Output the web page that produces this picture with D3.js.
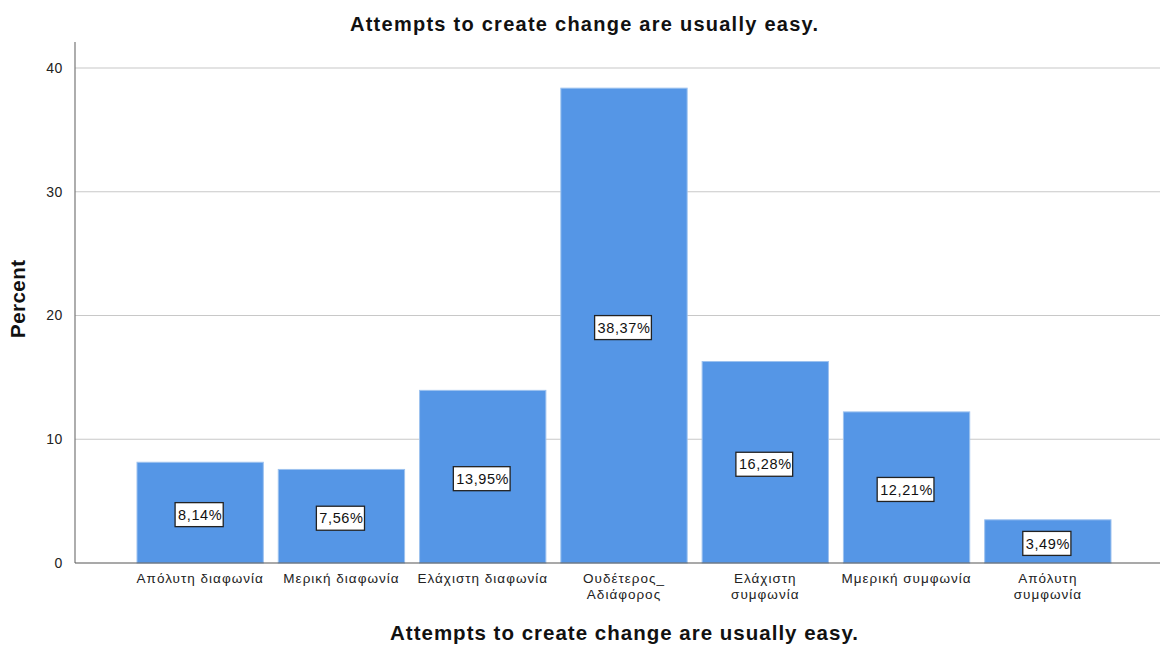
<!DOCTYPE html>
<html>
<head>
<meta charset="utf-8">
<script src="https://cdn.jsdelivr.net/npm/d3@7"></script>
<style>
  html, body { margin: 0; padding: 0; background: #fff; }
  svg { display: block; font-family: Arial, "Liberation Sans", sans-serif; }
</style>
</head>
<body>
<svg id="chart" width="1162" height="645"></svg>
<script>
// Response categories (line breaks mark wrapped axis labels)
const categories = [
  "Απόλυτη διαφωνία",
  "Μερική διαφωνία",
  "Ελάχιστη διαφωνία",
  "Ουδέτερος_\nΑδιάφορος",
  "Ελάχιστη\nσυμφωνία",
  "Μμερική συμφωνία",
  "Απόλυτη\nσυμφωνία"
];
// Percent of respondents per category
const percents = [8.14, 7.56, 13.95, 38.37, 16.28, 12.21, 3.49];
const yTicks = [0, 10, 20, 30, 40];
const chartTitle = "Attempts to create change are usually easy.";
const xTitle = "Attempts to create change are usually easy.";
const yTitle = "Percent";

const FONT = "Arial, 'Liberation Sans', sans-serif";
const svg = d3.select("#chart");
const plot = { left: 75, right: 1160, top: 42, bottom: 563 };

const y = d3.scaleLinear().domain([0, 42.1]).range([plot.bottom, plot.top]);
const x = d3.scaleBand()
  .domain(categories)
  .range([137, 1111])
  .paddingInner(0.106)
  .paddingOuter(0);

// Horizontal gridlines
svg.append("g")
  .selectAll("line")
  .data(yTicks.filter(d => d > 0))
  .join("line")
  .attr("x1", plot.left).attr("x2", plot.right)
  .attr("y1", d => y(d)).attr("y2", d => y(d))
  .attr("stroke", "#c8c8c8").attr("stroke-width", 1.2);

// Bars
svg.append("g")
  .selectAll("rect")
  .data(categories)
  .join("rect")
  .attr("x", d => x(d))
  .attr("y", (d, i) => y(percents[i]))
  .attr("width", x.bandwidth())
  .attr("height", (d, i) => y(0) - y(percents[i]))
  .attr("fill", "#5596e6")
  .attr("stroke", "#9dc2ef")
  .attr("stroke-width", 1);

// Y axis
const yAxis = d3.axisLeft(y).tickValues(yTicks).tickSize(0).tickPadding(12);
const ya = svg.append("g").attr("transform", `translate(${plot.left},0)`).call(yAxis);
ya.select(".domain").remove();
ya.selectAll("text")
  .attr("font-size", 14).attr("fill", "#222").attr("font-family", FONT)
  .attr("letter-spacing", 0.6);
svg.append("line")
  .attr("x1", plot.left).attr("x2", plot.left)
  .attr("y1", plot.top).attr("y2", plot.bottom)
  .attr("stroke", "#777").attr("stroke-width", 1.2);

// X axis baseline and category labels
svg.append("line")
  .attr("x1", plot.left).attr("x2", plot.right)
  .attr("y1", plot.bottom).attr("y2", plot.bottom)
  .attr("stroke", "#555").attr("stroke-width", 1.2);

const xa = svg.append("g").attr("transform", `translate(0,${plot.bottom})`)
  .call(d3.axisBottom(x).tickSize(0).tickFormat(""));
xa.select(".domain").remove();
xa.selectAll(".tick").each(function(d) {
  const t = d3.select(this).append("text")
    .attr("text-anchor", "middle")
    .attr("font-size", 13.5)
    .attr("letter-spacing", 1.0)
    .attr("fill", "#222")
    .attr("font-family", FONT);
  d.split("\n").forEach((line, i) => {
    t.append("tspan").attr("x", 0).attr("y", 20 + i * 16).text(line);
  });
});

// Value labels in boxes at bar mid-height
const fmt = v => v.toFixed(2).replace(".", ",") + "%";
const lab = svg.append("g").selectAll("g")
  .data(categories)
  .join("g")
  .attr("transform", (d, i) => `translate(${x(d) + x.bandwidth() / 2},${y(percents[i] / 2) + 2})`);
lab.append("text")
  .attr("text-anchor", "middle")
  .attr("dy", "0.36em")
  .attr("font-size", 14.5)
  .attr("letter-spacing", 0.6)
  .attr("fill", "#111")
  .text((d, i) => fmt(percents[i]));
lab.each(function() {
  const g = d3.select(this);
  const bb = g.select("text").node().getBBox();
  g.insert("rect", "text")
    .attr("x", bb.x - 3).attr("y", -12)
    .attr("width", bb.width + 4).attr("height", 24)
    .attr("fill", "#fff")
    .attr("stroke", "#222").attr("stroke-width", 1.3);
});

// Titles
svg.append("text")
  .attr("x", 584).attr("y", 31)
  .attr("text-anchor", "middle")
  .attr("font-size", 20).attr("font-weight", "bold").attr("fill", "#111")
  .attr("textLength", 468).attr("lengthAdjust", "spacing")
  .text(chartTitle);
svg.append("text")
  .attr("x", 624).attr("y", 640)
  .attr("text-anchor", "middle")
  .attr("font-size", 20.5).attr("font-weight", "bold").attr("fill", "#111")
  .attr("textLength", 468).attr("lengthAdjust", "spacing")
  .text(xTitle);
svg.append("text")
  .attr("transform", "translate(25,299) rotate(-90)")
  .attr("text-anchor", "middle")
  .attr("font-size", 20.5).attr("font-weight", "bold").attr("fill", "#111")
  .attr("textLength", 78).attr("lengthAdjust", "spacing")
  .text(yTitle);
</script>
</body>
</html>
